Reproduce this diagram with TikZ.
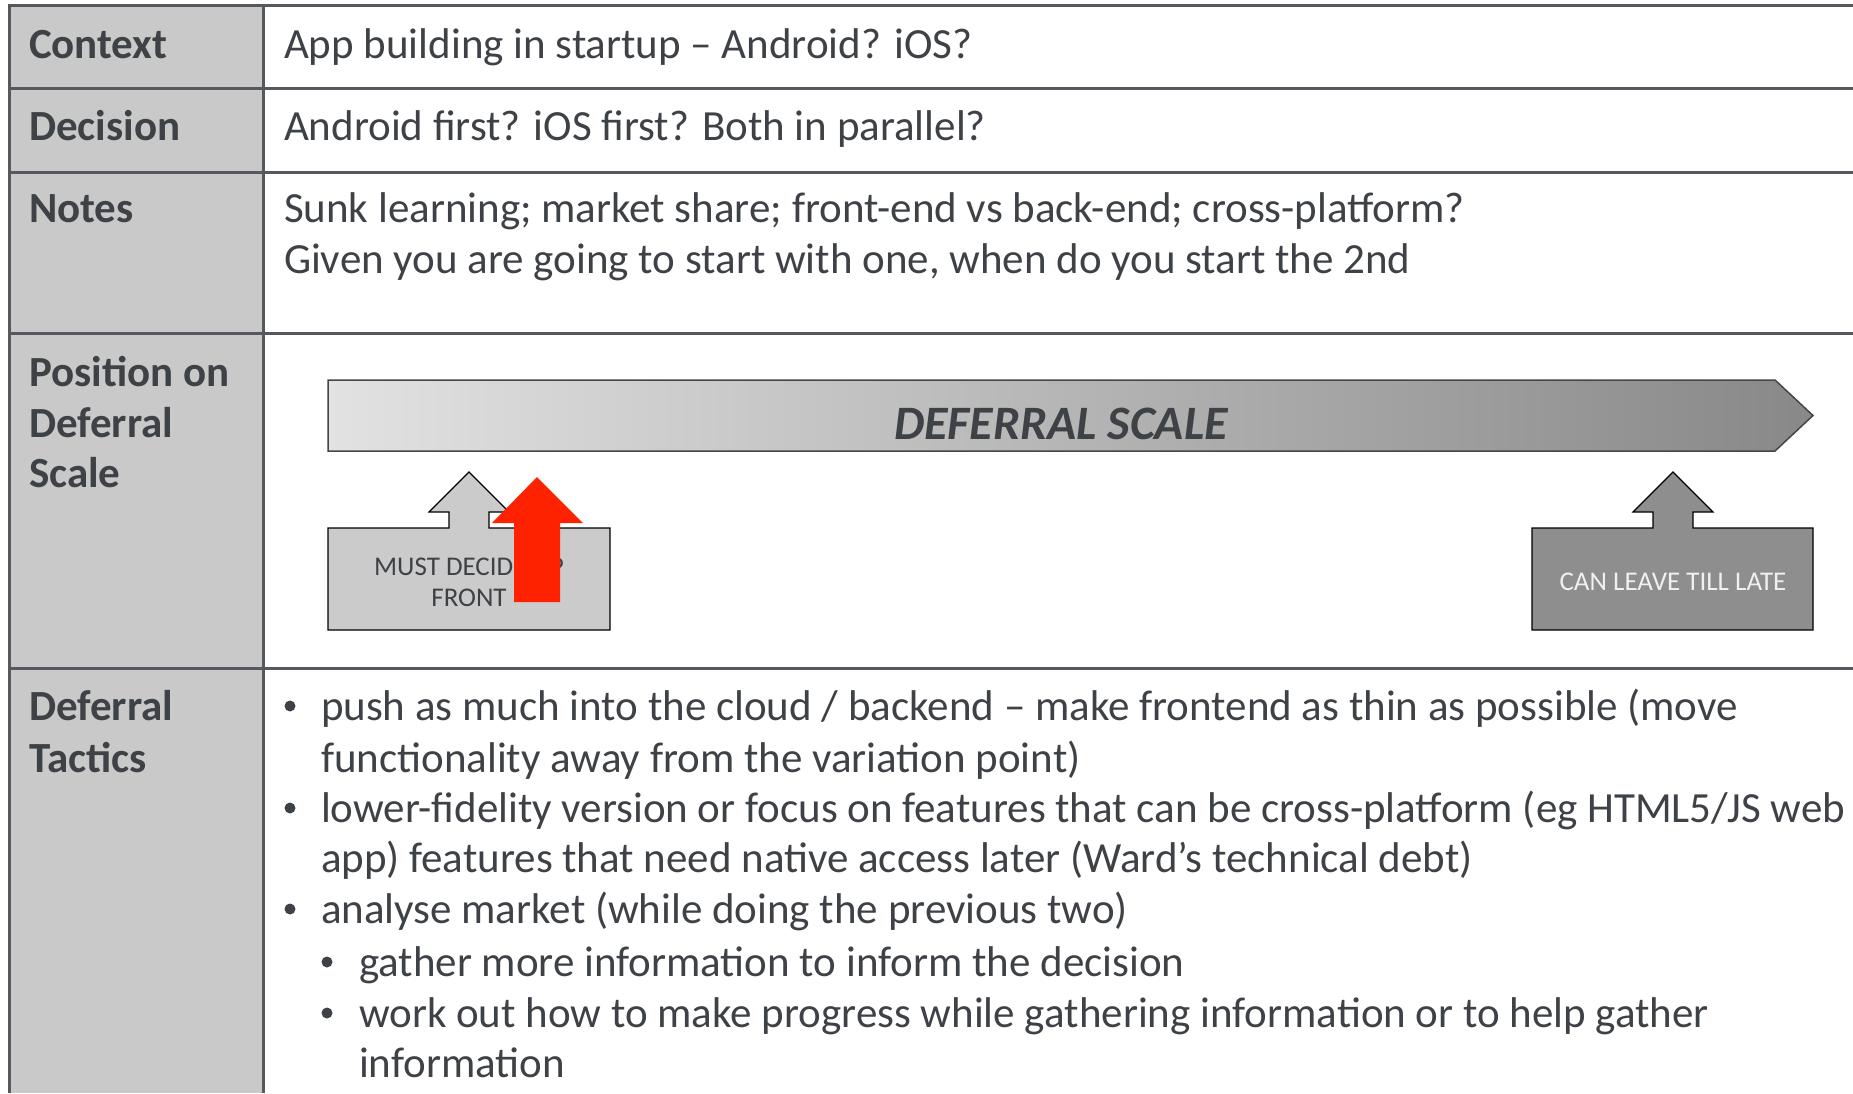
\documentclass[tikz,border=0pt]{standalone}
\usepackage{fontspec}
\setmainfont{Carlito}
\definecolor{txt}{RGB}{62,66,70}
\definecolor{gridc}{RGB}{85,88,92}
\definecolor{labc}{RGB}{201,201,201}
\definecolor{scaleL}{RGB}{226,226,226}
\definecolor{scaleR}{RGB}{136,136,136}
\definecolor{callA}{RGB}{203,203,203}
\definecolor{callB}{RGB}{142,142,142}
\definecolor{redarr}{RGB}{255,34,0}
\begin{document}
\begin{tikzpicture}[x=1pt,y=-1pt,
  every node/.style={inner sep=0pt,outer sep=0pt},
  lbl/.style={anchor=base west,font=\fontsize{43}{51}\selectfont\bfseries,text=txt},
  body/.style={anchor=base west,font=\fontsize{43}{51}\selectfont,text=txt},
  dot/.style={circle,fill=txt,minimum size=11pt},
  rule/.style={draw=gridc,line width=3pt},
  callfont/.style={font=\fontsize{27}{31}\selectfont,align=center}]
\useasboundingbox (0,0) rectangle (1853,1093);
\fill[white] (0,0) rectangle (1853,1093);
\fill[labc] (9,5) rectangle (263,1093);
% table rules
\draw[rule] (9,1093) -- (9,5) -- (1853,5);
\foreach \yy in {88,172,333,668} \draw[rule] (9,\yy) -- (1853,\yy);
\draw[rule] (263,5) -- (263,1093);
% labels
\node[lbl] (l1) at (29,58) {Context};
\node[lbl] (l2) at (29,140) {Decision};
\node[lbl] (l3) at (29,222) {Notes};
\node[lbl] (l4a) at (29,386) {Position on};
\node[lbl] (l4b) at (29,437) {Deferral};
\node[lbl] (l4c) at (29,487) {Scale};
\node[lbl] (l5a) at (29,720) {Deferral};
\node[lbl] (l5b) at (29,772) {Tactics};
% row texts
\node[body] (t1) at (284,58) {App building in startup – Android? iOS?};
\node[body] (t2) at (284,140) {Android first? iOS first? Both in parallel?};
\node[body] (t3a) at (284,222) {Sunk learning; market share; front-end vs back-end; cross-platform?};
\node[body] (t3b) at (284,273) {Given you are going to start with one, when do you start the 2nd};
% deferral scale
\shadedraw[left color=scaleL,right color=scaleR,draw=gridc!80!black,line width=1.5pt]
  (328,380) -- (1775,380) -- (1813,415.5) -- (1775,451) -- (328,451) -- cycle;
\node[anchor=base,font=\fontsize{48}{56}\selectfont\bfseries\itshape,text=txt] (ds) at (1061,439) {DEFERRAL SCALE};
% callout 1
\filldraw[fill=callA,draw=black,line width=1.2pt]
  (328,528) -- (449,528) -- (449,512) -- (429,512) -- (469,472) -- (509,512) -- (489,512) -- (489,528)
  -- (610,528) -- (610,630) -- (328,630) -- cycle;
\node[callfont,text=txt] (must) at (469,582) {MUST DECIDE UP\\FRONT};
% red arrow
\fill[redarr] (514,602) -- (514,523) -- (492,523) -- (537,477) -- (583,523) -- (560,523) -- (560,602) -- cycle;
% callout 2
\filldraw[fill=callB,draw=black,line width=1.2pt]
  (1532,528) -- (1653,528) -- (1653,512) -- (1633,512) -- (1673,472) -- (1713,512) -- (1693,512) -- (1693,528)
  -- (1813,528) -- (1813,630) -- (1532,630) -- cycle;
\node[callfont,text=white!94!black] (late) at (1673,582) {CAN LEAVE TILL LATE};
% tactics bullets
\node[dot] (b1) at (290,706) {};
\node[body] (b1a) at (321,720) {push as much into the cloud / backend – make frontend as thin as possible (move};
\node[body] (b1b) at (321,772) {functionality away from the variation point)};
\node[dot] (b2) at (290,808) {};
\node[body] (b2a) at (321,822) {lower-fidelity version or focus on features that can be cross-platform (eg HTML5/JS web};
\node[body] (b2b) at (321,872) {app) features that need native access later (Ward’s technical debt)};
\node[dot] (b3) at (290,909) {};
\node[body] (b3a) at (321,923) {analyse market (while doing the previous two)};
\node[dot] (s1) at (327,962) {};
\node[body] (s1a) at (359,976) {gather more information to inform the decision};
\node[dot] (s2) at (327,1013) {};
\node[body] (s2a) at (359,1027) {work out how to make progress while gathering information or to help gather};
\node[body] (s2b) at (359,1077) {information};
\end{tikzpicture}
\end{document}
